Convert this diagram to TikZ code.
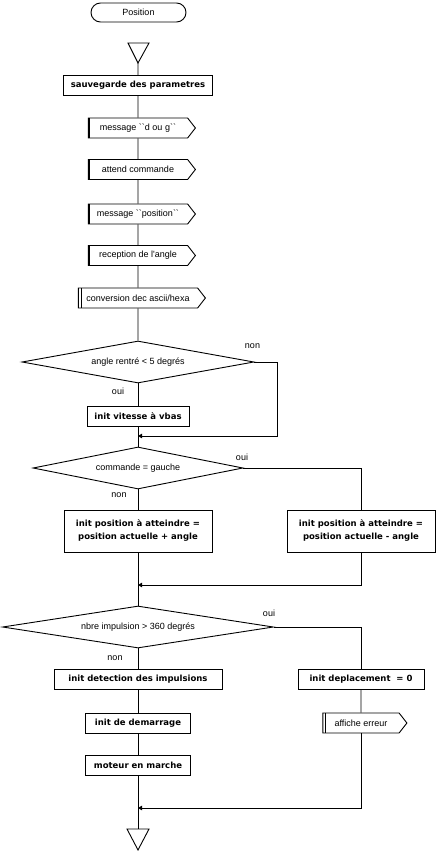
\documentclass[tikz,border=0pt]{standalone}
\usepackage{fontspec}
\setmainfont{Liberation Sans}
\newfontfamily\heavyfont{DejaVu Sans}
\usetikzlibrary{shapes.geometric,shapes.symbols,arrows.meta}
\begin{document}
\begin{tikzpicture}[x=1pt,y=-1pt,line width=0.9pt,
    every node/.style={font=\fontsize{9}{11}\selectfont},
    >={Triangle[length=4pt,width=4.5pt]},
    term/.style={draw,rounded corners=9.5pt,minimum width=95,minimum height=19,inner sep=1},
    procbox/.style={draw,minimum height=20,inner sep=2,align=center,
        font=\fontsize{8.5}{13}\heavyfont\bfseries},
    iobox/.style={draw,signal,signal to=east,signal pointer angle=104,minimum height=20,inner sep=2,
        path picture={\draw[line width=3pt] (path picture bounding box.north west) -- (path picture bounding box.south west);}},
    subbox/.style={draw,signal,signal to=east,signal pointer angle=104,minimum height=20,inner sep=2,
        path picture={\draw[line width=0.9pt] ([xshift=2.6pt]path picture bounding box.north west) -- ([xshift=2.6pt]path picture bounding box.south west);}},
    decision/.style={draw,diamond,aspect=5,inner sep=1}]
    \useasboundingbox (0,0) rectangle (437,851);
    \node[term] (pos) at (138.5,12.5) {Position};
    \draw (128,43) -- (149,43) -- (138,63) -- cycle;
    \coordinate (entry) at (138,63);
    \node[procbox,minimum width=149] (save) at (138,85.5) {sauvegarde des parametres};
    \node[iobox,minimum width=107] (msgdg) at (138,128) {message \textasciigrave\textasciigrave d ou g\textasciigrave\textasciigrave};
    \node[iobox,minimum width=107] (wait) at (138,169.5) {attend commande};
    \node[iobox,minimum width=107] (msgpos) at (138,214) {message \textasciigrave\textasciigrave position\textasciigrave\textasciigrave};
    \node[iobox,minimum width=107] (recv) at (138,255.5) {reception de l\textquotesingle angle};
    \node[subbox,minimum width=127] (conv) at (138,298) {conversion dec ascii/hexa};
    \node[decision,minimum width=232,minimum height=42] (angle) at (138,362) {angle rentré < 5 degrés};
    \node[procbox,minimum width=102] (slow) at (138,416.5) {init vitesse à vbas};
    \coordinate (join1) at (138,436);
    \node[decision,minimum width=210,minimum height=42] (side) at (138,468) {commande = gauche};
    \node[procbox,minimum width=148,minimum height=42] (plus) at (138,531) {init position à atteindre =\\position actuelle + angle};
    \node[procbox,minimum width=148,minimum height=42] (minus) at (361,531) {init position à atteindre =\\position actuelle - angle};
    \coordinate (join2) at (138,585);
    \node[decision,minimum width=271,minimum height=42] (limit) at (138,627) {nbre impulsion > 360 degrés};
    \node[procbox,minimum width=168] (detect) at (138,679.5) {init detection des impulsions};
    \node[procbox,minimum width=126] (zero) at (361,679.5) {init deplacement~ = 0};
    \node[procbox,minimum width=105] (start) at (138,723) {init de demarrage};
    \node[subbox,minimum width=84] (err) at (361,723) {affiche erreur};
    \node[procbox,minimum width=105] (run) at (138,765.5) {moteur en marche};
    \coordinate (join3) at (138,808);
    \draw (127,829) -- (149,829) -- (138,850) -- cycle;
    \coordinate (exit) at (138,829);
    \draw (entry) -- (save) -- (msgdg) -- (wait) -- (msgpos) -- (recv) -- (conv) -- (angle);
    \draw (angle) -- (slow) -- (side) -- (plus) -- (limit) -- (detect) -- (start) -- (run) -- (exit);
    \draw[->] (angle.east) -- ++(23,0) |- (join1);
    \draw (side.east) -| (minus.north);
    \draw[->] (minus.south) |- (join2);
    \draw (limit.east) -| (zero.north);
    \draw (zero) -- (err);
    \draw[->] (err.south) |- (join3);
    \node (no1) at (252.5,346) {non};
    \node (yes1) at (118,391) {oui};
    \node (yes2) at (242,457) {oui};
    \node (no2) at (119,495) {non};
    \node (yes3) at (269,613) {oui};
    \node (no3) at (115,658) {non};
\end{tikzpicture}
\end{document}
